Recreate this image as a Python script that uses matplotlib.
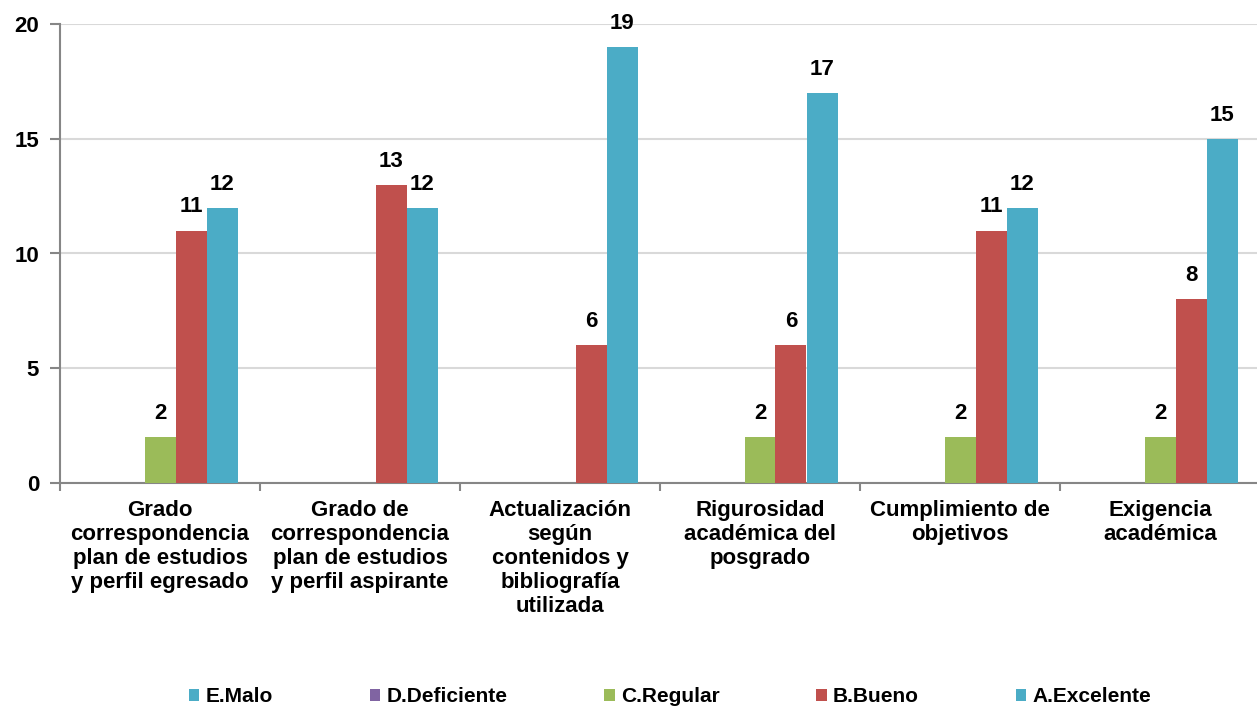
import numpy as np
import matplotlib
matplotlib.use("Agg")
import matplotlib.pyplot as plt

plt.rcParams['font.family'] = ['Liberation Sans', 'DejaVu Sans']
plt.rcParams['font.weight'] = 'bold'

categories = [
    "Grado\ncorrespondencia\nplan de estudios\ny perfil egresado",
    "Grado de\ncorrespondencia\nplan de estudios\ny perfil aspirante",
    "Actualización\nsegún\ncontenidos y\nbibliografía\nutilizada",
    "Rigurosidad\nacadémica del\nposgrado",
    "Cumplimiento de\nobjetivos",
    "Exigencia\nacadémica",
]
series_names = ["E.Malo", "D.Deficiente", "C.Regular", "B.Bueno", "A.Excelente"]
e_malo = [0, 0, 0, 0, 0, 0]
d_deficiente = [0, 0, 0, 0, 0, 0]
c_regular = [2, 0, 0, 2, 2, 2]
b_bueno = [11, 13, 6, 6, 11, 8]
a_excelente = [12, 12, 19, 17, 12, 15]
colors = ['#4BACC6', '#8064A2', '#9BBB59', '#C0504D', '#4BACC6']

all_series = [e_malo, d_deficiente, c_regular, b_bueno, a_excelente]

W, H = 1257, 710
fig = plt.figure(figsize=(W / 100, H / 100), dpi=100)
ax = fig.add_axes([60 / W, (H - 483) / H, 1200 / W, (483 - 24) / H])

x = np.arange(len(categories))
bw = 0.155
grey = '#868686'
for k, (vals, name, c) in enumerate(zip(all_series, series_names, colors)):
    pos = x + (k - 2) * bw
    ax.bar(pos, vals, width=bw, color=c, label=name, zorder=3)
    for px, v in zip(pos, vals):
        if v > 0:
            ax.annotate(str(v), (px, v), xytext=(0, 13), textcoords='offset points',
                        ha='center', va='baseline', fontsize=16, fontweight='bold')

ax.set_xlim(-0.5, 5.5)
ax.set_ylim(0, 20)
ax.set_yticks([0, 5, 10, 15, 20])
ax.yaxis.grid(True, color='#D9D9D9', linewidth=1.5, zorder=0)
ax.set_axisbelow(True)

ax.set_xticks(np.arange(-0.5, 6.0, 1.0))
ax.set_xticklabels([])
ax.set_xticks(x, minor=True)
ax.set_xticklabels(categories, minor=True, fontsize=16, fontweight='bold',
                   linespacing=1.19, va='top')
ax.tick_params(axis='x', which='minor', length=0, pad=12)
ax.tick_params(axis='x', which='major', length=6, color=grey, width=1.5, direction='out')
ax.tick_params(axis='y', length=7, color=grey, width=1.5, pad=8, labelsize=16)

for s in ['top', 'right']:
    ax.spines[s].set_visible(False)
for s in ['left', 'bottom']:
    ax.spines[s].set_color(grey)
    ax.spines[s].set_linewidth(1.5)

fig.legend(loc='center', bbox_to_anchor=(670 / W, 1 - 697 / H), ncol=5, frameon=False,
           handlelength=0.5, handleheight=0.5, handletextpad=0.3,
           columnspacing=4.65, prop={'weight': 'bold', 'size': 15})

fig.savefig('out.png', dpi=100)
